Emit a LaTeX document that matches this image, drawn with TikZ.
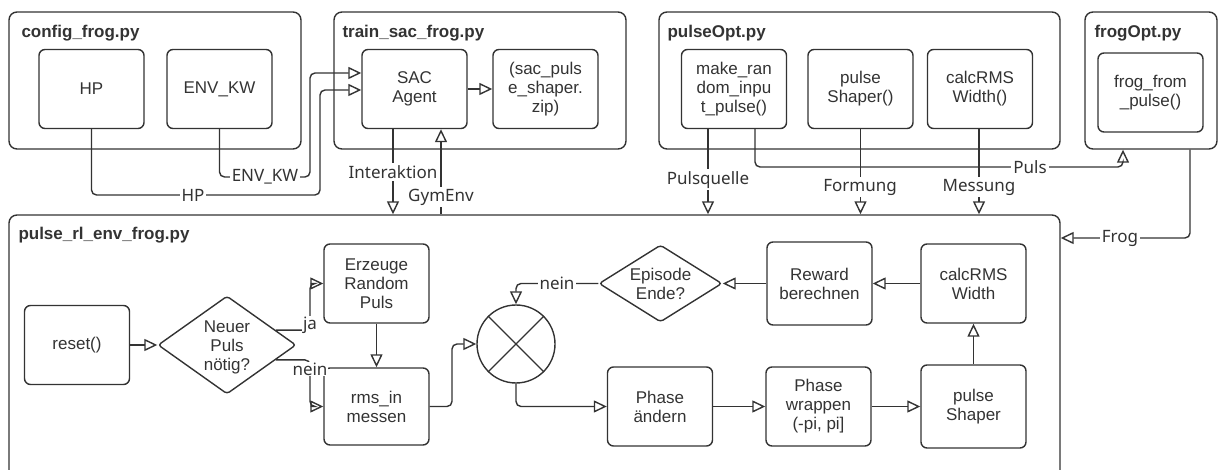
\documentclass[tikz,border=0pt]{standalone}
\usepackage{fontspec}
\setmainfont{Liberation Sans}
\newfontfamily\edgefont{Noto Sans}
\usetikzlibrary{arrows.meta,shapes.geometric,calc}
\definecolor{ink}{HTML}{333333}

\begin{document}
\begin{tikzpicture}[x=1pt,y=-1pt,color=ink,
  font=\fontsize{17}{19}\selectfont,
  container/.style={draw=ink, line width=1.4pt, rounded corners=8pt, inner sep=0pt},
  fbox/.style={draw=ink, line width=1.4pt, rounded corners=6pt, minimum width=105pt,
    minimum height=79pt, align=center, inner sep=2pt},
  ttl/.style={anchor=base west, font=\fontsize{17}{19}\selectfont\bfseries, inner sep=0pt},
  decision/.style={diamond, draw=ink, line width=1.4pt, inner sep=0pt, rounded corners=3pt},
  txt/.style={align=center, inner sep=0pt},
  opentip/.tip={Triangle[open, length=13pt, width=12pt, sharp]},
  flow/.style={draw=ink, line width=1.4pt, -opentip},
  bent/.style={flow, rounded corners=5pt},
  elbl/.style={fill=white, inner sep=2pt, font=\edgefont\fontsize{17}{19}\selectfont},
]
\useasboundingbox (0,0) rectangle (1219,470);
\clip (0,0) rectangle (1219,470);

% ---- module containers ----
\node[container, minimum width=292pt, minimum height=137pt] (cfg) at (155,80.5) {};
\node[container, minimum width=292pt, minimum height=137pt] (trn) at (480,80.5) {};
\node[container, minimum width=401pt, minimum height=137pt] (pop) at (859.5,80.5) {};
\node[container, minimum width=132pt, minimum height=137pt] (fop) at (1151,80.5) {};
\node[container, minimum width=1051pt, minimum height=305pt] (env) at (534.5,367.5) {};

\node[ttl] (cfgT) at ($(cfg.north west)+(13,26)$) {config\_frog.py};
\node[ttl] (trnT) at ($(trn.north west)+(9,26)$) {train\_sac\_frog.py};
\node[ttl] (popT) at ($(pop.north west)+(9,26)$) {pulseOpt.py};
\node[ttl] (fopT) at ($(fop.north west)+(10,26)$) {frogOpt.py};
\node[ttl] (envT) at ($(env.north west)+(10,25)$) {pulse\_rl\_env\_frog.py};

% ---- module contents ----
\node[fbox] (hp) at (91.5,89) {HP};
\node[fbox] (kw) at (219.5,89) {ENV\_KW};
\node[fbox] (sac) at (414.5,89) {SAC\\Agent};
\node[fbox] (zip) at (545.5,89) {(sac\_puls\\e\_shaper.\\zip)};
\node[fbox] (mkr) at (734,89) {make\_ran\\dom\_inpu\\t\_pulse()};
\node[fbox] (psf) at (860.5,89) {pulse\\Shaper()};
\node[fbox] (crf) at (980,89) {calcRMS\\Width()};
\node[fbox] (ffp) at (1150.5,92.5) {frog\_from\\\_pulse()};

% ---- environment flow ----
\node[fbox] (rst) at (77,345) {reset()};
\node[decision, minimum width=138pt, minimum height=98pt] (dnp) at (227,345) {};
\node[txt] (dnpT) at (227,347) {Neuer\\Puls\\nötig?};
\node[fbox] (erz) at (376.5,283.5) {Erzeuge\\Random\\Puls};
\node[fbox, minimum height=77pt] (rms) at (376.5,406.5) {rms\_in\\messen};
\node[circle, draw=ink, line width=1.4pt, minimum size=78pt, inner sep=0pt] (mix) at (516,344) {};
\draw[line width=1.3pt] (mix.north west) -- (mix.south east) (mix.north east) -- (mix.south west);
\node[decision, minimum width=123pt, minimum height=77pt] (epi) at (660.5,283.5) {};
\node[txt] (epiT) at (660.5,283.5) {Episode\\Ende?};
\node[fbox] (phs) at (660,406.5) {Phase\\ändern};
\node[fbox, minimum height=83pt] (rew) at (819.5,283.5) {Reward\\berechnen};
\node[fbox] (wrp) at (818.5,406.5) {Phase\\wrappen\\(-pi, pi]};
\node[fbox] (crw) at (973.5,283.5) {calcRMS\\Width};
\node[fbox, minimum height=83pt] (psh) at (973.5,406.5) {pulse\\Shaper};

% ---- connectors between modules ----
\coordinate (hpIn) at (320,90);
\coordinate (kwIn) at (310,73);
\draw[bent] (hp.south) -- (hp.south |- 0,195) -- (320,195) -- (hpIn) -- (hpIn -| sac.west);
\draw[bent] (kw.south) -- (kw.south |- 0,177) -- (310,177) -- (kwIn) -- (kwIn -| sac.west);
\draw[flow] (sac.east) -- (zip.west);
\draw[flow] ([xshift=-21.5pt]sac.south) -- ([xshift=-21.5pt]sac.south |- env.north);
\draw[flow] ([xshift=26.5pt]sac.south |- env.north) -- ([xshift=26.5pt]sac.south);
\draw[flow] ([xshift=-26pt]mkr.south) -- ([xshift=-26pt]mkr.south |- env.north);
\draw[bent] ([xshift=21pt]mkr.south) -- ([xshift=21pt]mkr.south |- 0,167) -- (1123,167) -- (1123,167 |- fop.south);
\draw[flow] (psf.south) -- (psf.south |- env.north);
\draw[flow] ([xshift=-1pt]crf.south) -- ([xshift=-1pt]crf.south |- env.north);
\coordinate (frogTurn) at (1190,238);
\draw[bent] (fop.south -| frogTurn) -- (frogTurn) -- (frogTurn -| env.east);

\node[elbl] (lHP) at (193,195) {HP};
\node[elbl] (lKW) at (265,177) {ENV\_KW};
\node[elbl] (lIA) at (393,172) {Interaktion};
\node[elbl] (lGE) at (441,197) {GymEnv};
\node[elbl] (lPQ) at (708,180) {Pulsquelle};
\node[elbl] (lPU) at (1030,167) {Puls};
\node[elbl] (lFO) at (860,187) {Formung};
\node[elbl] (lME) at (979,187) {Messung};
\node[elbl] (lFR) at (1120,238) {Frog};

% ---- connectors inside the environment ----
\coordinate (jaOut) at ($(dnp.east)!0.3!(dnp.north)$);
\coordinate (neinOut) at ($(dnp.east)!0.3!(dnp.south)$);
\draw[flow] (rst.east) -- (dnp.west);
\draw[bent] (jaOut) -- (310,0 |- jaOut) -- (310,283.5) -- (erz.west);
\draw[bent] (neinOut) -- (310,0 |- neinOut) -- (310,406.5) -- (rms.west);
\draw[flow] (erz.south) -- (rms.north);
\draw[bent] (rms.east) -- (452,406.5) -- (452,344) -- (mix.west);
\draw[bent] (mix.south) -- (mix.south |- phs.west) -- (phs.west);
\draw[flow] (phs.east) -- (wrp.west);
\draw[flow] (wrp.east) -- (psh.west);
\draw[flow] (psh.north) -- (crw.south);
\draw[flow] (crw.west) -- (rew.east);
\draw[flow] (rew.west) -- (epi.east);
\draw[bent] (epi.west) -- (mix.north |- epi.west) -- (mix.north);

\node[elbl, inner sep=1pt] (lJA) at (310,325) {ja};
\node[elbl, inner sep=1pt] (lN1) at (310,369) {nein};
\node[elbl] (lN2) at (557,283) {nein};
\end{tikzpicture}
\end{document}
